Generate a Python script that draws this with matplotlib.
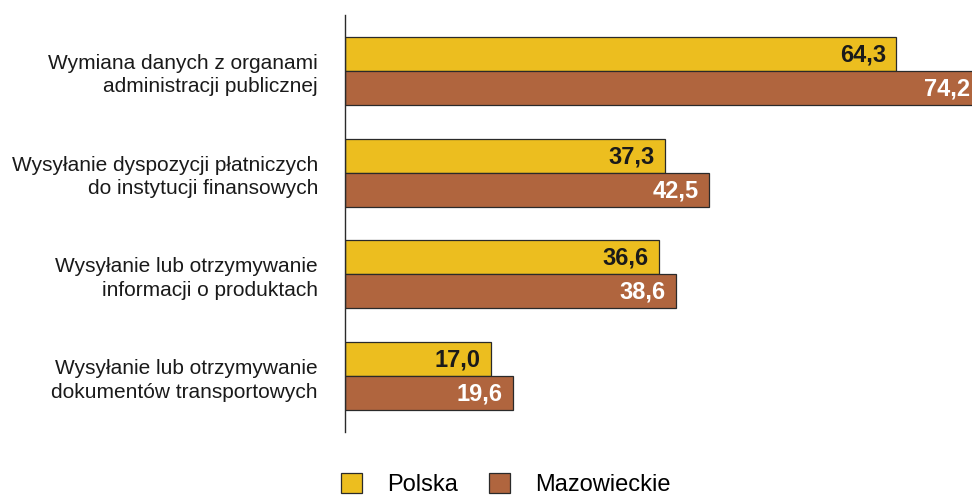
import numpy as np
import matplotlib.pyplot as plt
from matplotlib.patches import Patch

plt.rcParams['font.family'] = ['Liberation Sans', 'DejaVu Sans']

categories = ["Wymiana danych z organami\nadministracji publicznej",
              "Wysyłanie dyspozycji płatniczych\ndo instytucji finansowych",
              "Wysyłanie lub otrzymywanie\ninformacji o produktach",
              "Wysyłanie lub otrzymywanie\ndokumentów transportowych"]
polska = [64.3, 37.3, 36.6, 17.0]
mazowieckie = [74.2, 42.5, 38.6, 19.6]
series_names = ["Polska", "Mazowieckie"]

c_pl = '#ECBE1F'
c_maz = '#B0653E'

fig = plt.figure(figsize=(9.72, 4.96), dpi=100)
ax = fig.add_axes([345/972, 64/496, 1 - 345/972, (432 - 15)/496])

y = np.arange(len(categories))
h = 0.333
ax.barh(y - h/2, polska, height=h, color=c_pl, edgecolor='#2a2a2a', linewidth=0.9)
ax.barh(y + h/2, mazowieckie, height=h, color=c_maz, edgecolor='#2a2a2a', linewidth=0.9)

for i in range(len(categories)):
    ax.text(polska[i] - 1.2, y[i] - h/2 + 0.01, f"{polska[i]:.1f}".replace('.', ','),
            ha='right', va='center', fontsize=17, fontweight='bold', color='#1a1a1a')
    ax.text(mazowieckie[i] - 1.2, y[i] + h/2 + 0.01, f"{mazowieckie[i]:.1f}".replace('.', ','),
            ha='right', va='center', fontsize=17, fontweight='bold', color='white',
            clip_on=False)

ax.set_xlim(0, (972 - 345) / 8.57)
ax.set_ylim(3.55, -0.55)
ax.set_yticks(y)
ax.set_yticklabels(categories, fontsize=15, color='#1a1a1a', linespacing=1.3)
ax.tick_params(axis='y', length=0, pad=19.5)
ax.set_xticks([])
for s in ['top', 'right', 'bottom']:
    ax.spines[s].set_visible(False)
ax.spines['left'].set_color('#2a2a2a')
ax.spines['left'].set_linewidth(1.0)

handles = [Patch(facecolor=c_pl, edgecolor='#2a2a2a', linewidth=0.9),
           Patch(facecolor=c_maz, edgecolor='#2a2a2a', linewidth=0.9)]
fig.legend(handles, series_names, loc='upper left',
           bbox_to_anchor=(341/972, 1 - 473/496), ncol=2, frameon=False,
           fontsize=17, handlelength=0.9, handleheight=0.95,
           handletextpad=1.05, columnspacing=1.3, borderpad=0, borderaxespad=0)

fig.savefig('out.png', dpi=100)
